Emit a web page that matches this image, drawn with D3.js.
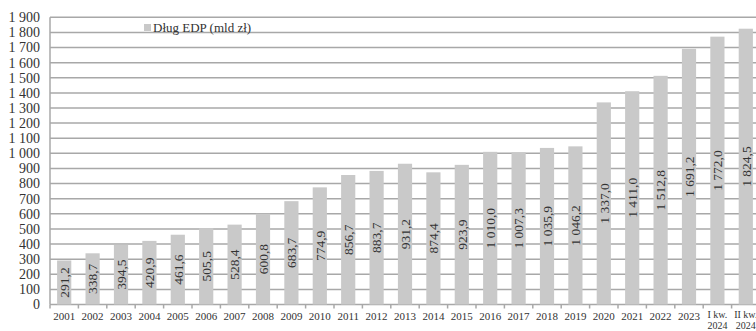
<!DOCTYPE html>
<html><head><meta charset="utf-8">
<script src="https://cdn.jsdelivr.net/npm/d3@7"></script>
<style>body{margin:0;background:#fff}svg{display:block}</style>
</head><body>
<script>
const categories = ["2001","2002","2003","2004","2005","2006","2007","2008","2009","2010","2011","2012","2013","2014","2015","2016","2017","2018","2019","2020","2021","2022","2023","I kw.|2024","II kw.|2024"];
const debt = [291.2,338.7,394.5,420.9,461.6,505.5,528.4,600.8,683.7,774.9,856.7,883.7,931.2,874.4,923.9,1010.0,1007.3,1035.9,1046.2,1337.0,1411.0,1512.8,1691.2,1772.0,1824.5];
const yTicks = [0,100,200,300,400,500,600,700,800,900,1000,1100,1200,1300,1400,1500,1600,1700,1800,1900];
const legendLabel = "Dług EDP (mld zł)";

(function(){
const W = 756, H = 331;
const mLeft = 50, mRight = 760, mTop = 17.3, mBottom = 304.5;
const fmt = v => {
  const s = v.toFixed(1).replace(".", ",");
  const [i, d] = s.split(",");
  const ii = i.length > 3 ? i.slice(0, i.length-3) + " " + i.slice(-3) : i;
  return ii + "," + d;
};
const fmtTick = v => { const s = String(v); return s.length > 3 ? s.slice(0, s.length-3) + " " + s.slice(-3) : s; };

const svg = d3.select("body").append("svg").attr("width", W).attr("height", H)
  .style("font-family", "'Liberation Serif', 'Times New Roman', serif");

const x = d3.scaleBand().domain(categories).range([mLeft, mRight]).paddingInner(0.5).paddingOuter(0.25);
const y = d3.scaleLinear().domain([0, 1900]).range([mBottom, mTop]);

svg.append("g").selectAll("line").data(yTicks).join("line")
  .attr("x1", mLeft).attr("x2", W).attr("y1", d => y(d)).attr("y2", d => y(d))
  .attr("stroke", "#a8a8a8").attr("stroke-width", 1.5);

svg.append("line").attr("x1", mLeft).attr("x2", mLeft).attr("y1", y(1900)).attr("y2", y(0))
  .attr("stroke", "#a8a8a8").attr("stroke-width", 1.5);

svg.append("g").selectAll("text").data(yTicks).join("text")
  .attr("x", 40).attr("y", d => y(d)).attr("dy", "0.35em").attr("text-anchor", "end")
  .attr("font-size", 14).attr("fill", "#333").text(fmtTick);

const step = x.step();
const xBounds = d3.range(categories.length + 1).map(i => mLeft + i * step);
svg.append("g").selectAll("line").data(xBounds).join("line")
  .attr("x1", d => d).attr("x2", d => d).attr("y1", y(0)).attr("y2", y(0) + 4)
  .attr("stroke", "#a8a8a8").attr("stroke-width", 1.5);

svg.append("g").selectAll("rect").data(debt).join("rect")
  .attr("x", (d, i) => x(categories[i])).attr("width", x.bandwidth())
  .attr("y", d => y(d)).attr("height", d => y(0) - y(d))
  .attr("fill", "#c9c9c9");

svg.append("g").selectAll("text").data(debt).join("text")
  .attr("transform", (d, i) => `translate(${x(categories[i]) + x.bandwidth()/2},${(y(d) + y(0))/2}) rotate(-90)`)
  .attr("text-anchor", "middle").attr("dy", "0.35em")
  .attr("font-size", 13.5).attr("fill", "#333").text(fmt);

// x labels: one text element per line
const lines = [];
categories.forEach(c => {
  const parts = c.split("|");
  parts.forEach((p, k) => lines.push({c, p, k, n: parts.length}));
});
svg.append("g").selectAll("text").data(lines).join("text")
  .attr("x", d => x(d.c) + x.bandwidth()/2)
  .attr("y", d => d.n === 1 ? 319.5 : (d.k === 0 ? 317.5 : 328.5))
  .attr("text-anchor", "middle")
  .attr("font-size", d => d.n === 1 ? 11 : 10)
  .attr("fill", "#333").text(d => d.p);

svg.append("rect").attr("x", 144).attr("y", 24).attr("width", 7).attr("height", 7).attr("fill", "#c9c9c9");
svg.append("text").attr("x", 153).attr("y", 32).attr("font-size", 13).attr("fill", "#333").text(legendLabel);
})();
</script>
</body></html>
